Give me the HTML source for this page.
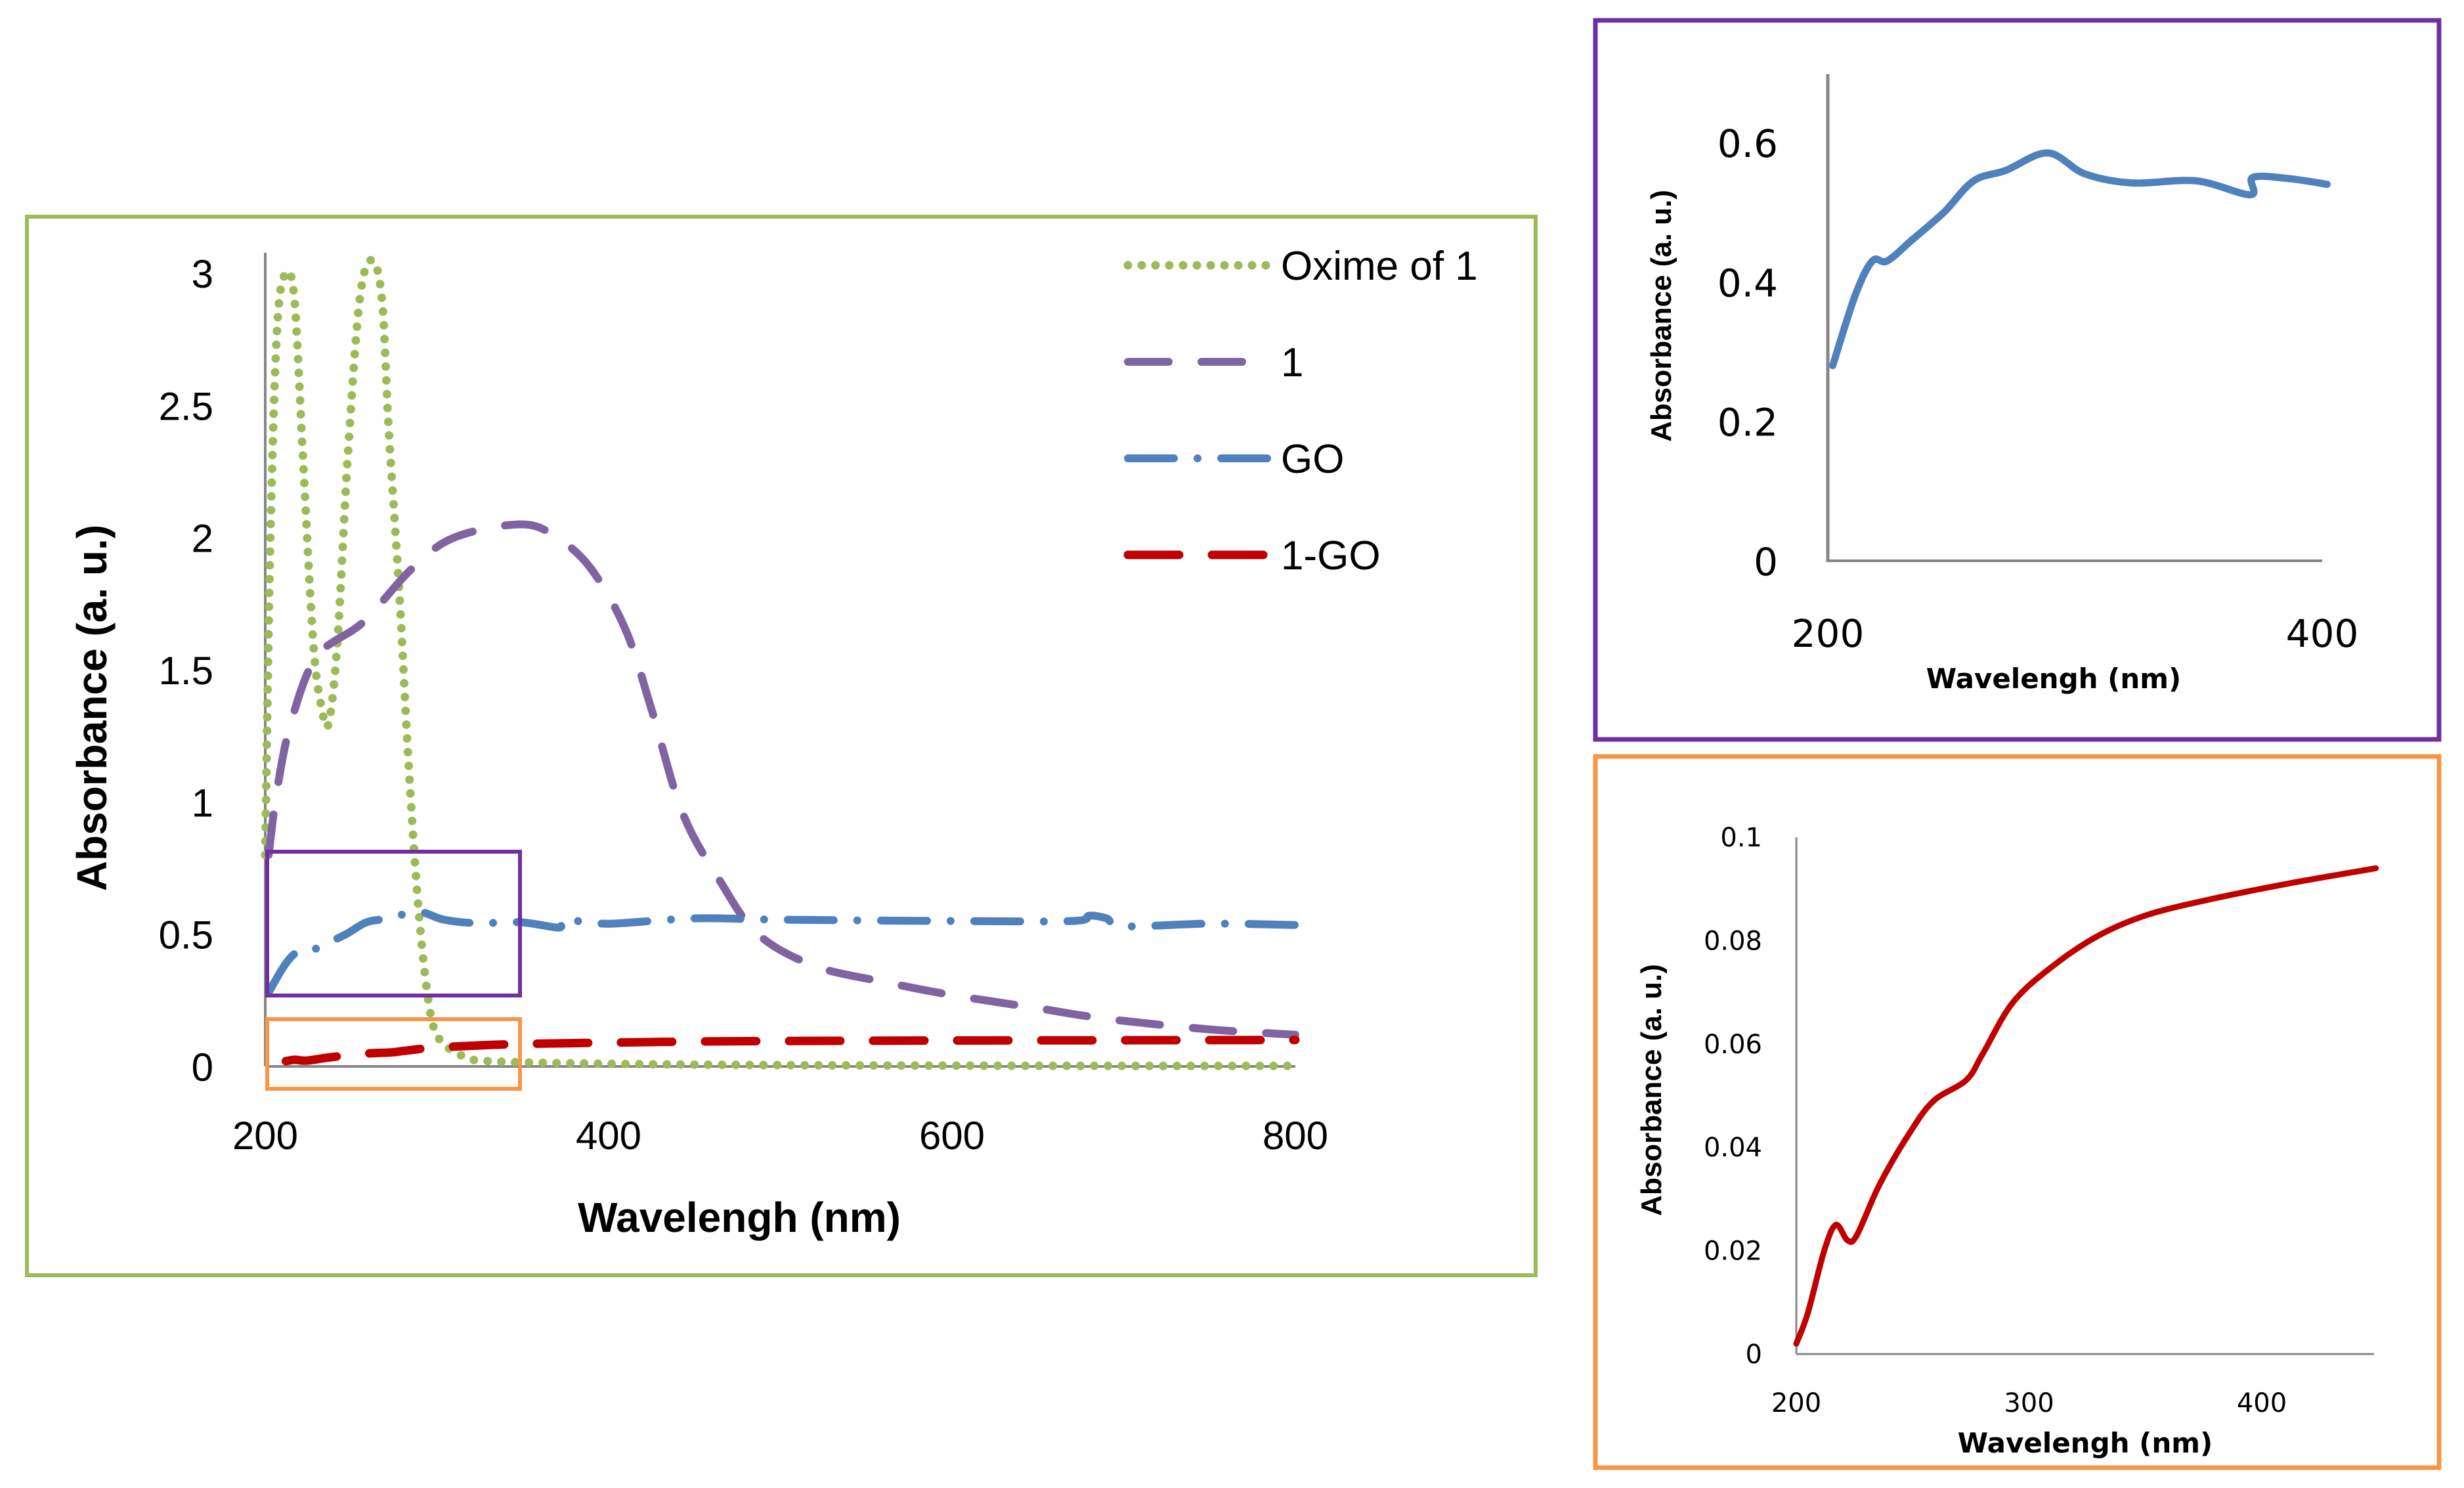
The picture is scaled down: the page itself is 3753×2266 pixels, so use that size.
<!DOCTYPE html>
<html><head><meta charset="utf-8"><style>
html,body{margin:0;padding:0;background:#fff;}
svg{display:block;}
</style></head><body>
<svg id="fig" width="3753" height="2266" viewBox="0 0 3753 2266" xmlns="http://www.w3.org/2000/svg">
<rect width="3753" height="2266" fill="#fff"/>
<rect x="41" y="330" width="2298" height="1612" fill="none" stroke="#9BBB59" stroke-width="6"/>
<rect x="2430" y="31" width="1285" height="1095" fill="none" stroke="#7030A0" stroke-width="7"/>
<rect x="2430" y="1152" width="1285" height="1083" fill="none" stroke="#F79646" stroke-width="7"/>
<g id="main"></g><g id="in1"></g><g id="in2"></g>
</svg>
<script>
// ---------- data ----------
const oximeX=[200,203,207,212,217,222,228,233,237,242,248,255,262,268,272,278,283,288,293,298,305,315,330,400,500,600,700,800];
const oximeY=[0.8,2.0,2.8,3.0,2.9,2.3,1.6,1.35,1.3,1.6,2.3,2.9,3.05,2.9,2.4,1.8,1.2,0.7,0.35,0.15,0.08,0.04,0.02,0.01,0.005,0.003,0.002,0.002];
const oneX=[202,207,215,230,257,285,310,349,370,390,410,425,443,465,487,520,560,600,650,690,750,800];
const oneY=[0.8,1.05,1.3,1.55,1.68,1.88,2.0,2.05,2.0,1.88,1.65,1.35,0.96,0.7,0.5,0.38,0.32,0.27,0.22,0.18,0.14,0.12];
const goX=[202,211,218,224,234,247,259,272,289,304,323,349,371,372,387,402,450,500,600,670,680,690,700,750,800];
const goY=[0.28,0.38,0.43,0.43,0.46,0.5,0.545,0.56,0.585,0.555,0.542,0.545,0.525,0.55,0.548,0.54,0.56,0.555,0.55,0.55,0.57,0.56,0.53,0.54,0.535];
const gox1X=[200,205,212,217,222,226,236,249,259,273,280,293,310,330,351,378,411,449,500,600,700,800];
const gox1Y=[0.002,0.008,0.02,0.025,0.022,0.023,0.033,0.043,0.049,0.053,0.058,0.068,0.075,0.081,0.085,0.088,0.091,0.094,0.096,0.098,0.099,0.1];
const mainXTicks=[200,400,600,800];
const mainYTicks=[0,0.5,1,1.5,2,2.5,3];
const mainYLabels=["0","0.5","1","1.5","2","2.5","3"];
const in1XTicks=[200,400];
const in1YTicks=[0,0.2,0.4,0.6];
const in2XTicks=[200,300,400];
const in2YTicks=[0,0.02,0.04,0.06,0.08,0.1];
const legendNames=["Oxime of 1","1","GO","1-GO"];

const NS="http://www.w3.org/2000/svg";
function mk(parent,tag,attrs,text){const e=document.createElementNS(NS,tag);for(const k in attrs)e.setAttribute(k,attrs[k]);if(text!==undefined)e.textContent=text;parent.appendChild(e);return e;}
function pathD(xs,ys,sx,sy){
 const p=xs.map((x,i)=>[sx(x),sy(ys[i])]);
 let d='M'+p[0][0].toFixed(1)+' '+p[0][1].toFixed(1);
 for(let i=0;i<p.length-1;i++){
  const p0=p[i-1]||p[i],p1=p[i],p2=p[i+1],p3=p[i+2]||p2;
  const c1=[p1[0]+(p2[0]-p0[0])/6,p1[1]+(p2[1]-p0[1])/6];
  const c2=[p2[0]-(p3[0]-p1[0])/6,p2[1]-(p3[1]-p1[1])/6];
  d+=' C'+c1[0].toFixed(1)+' '+c1[1].toFixed(1)+' '+c2[0].toFixed(1)+' '+c2[1].toFixed(1)+' '+p2[0].toFixed(1)+' '+p2[1].toFixed(1);
 }
 return d;}

// ---------- main chart ----------
const M=document.getElementById('main');
const mx=v=>404+(v-200)*(1973-404)/600;
const my=v=>1624-v*(1624-416)/3;
let e;
e=mk(M,'line',{x1:404,y1:385,x2:404,y2:1624,stroke:'#868686','stroke-width':4});


e=mk(M,'line',{x1:404,y1:1624,x2:1973,y2:1624,stroke:'#868686','stroke-width':4});


mainYTicks.forEach((t,i)=>{e=mk(M,'text',{x:325,y:my(t)+22,'text-anchor':'end','font-family':'Liberation Sans, sans-serif','font-size':60,fill:'#000'},mainYLabels[i]);

});
mainXTicks.forEach(t=>{e=mk(M,'text',{x:mx(t),y:1750,'text-anchor':'middle','font-family':'Liberation Sans, sans-serif','font-size':60,fill:'#000'},String(t));

});
e=mk(M,'text',{x:1126,y:1876,'text-anchor':'middle','font-family':'Liberation Sans, sans-serif','font-size':64,'font-weight':'bold',fill:'#000'},'Wavelengh (nm)');


e=mk(M,'text',{x:162,y:1078,'text-anchor':'middle','font-family':'Liberation Sans, sans-serif','font-size':64,'font-weight':'bold',fill:'#000',transform:'rotate(-90 162 1078)'},'Absorbance (a. u.)');



const styles=[
 {c:'#9BBB59',da:'0 21',cap:'round',w:13},
 {c:'#8064A2',da:'62 50',cap:'round',w:12},
 {c:'#4F81BD',da:'70 36 0 36',cap:'round',w:12},
 {c:'#C00000',da:'78 50',cap:'round',w:13}];
const series=[[oximeX,oximeY],[oneX,oneY],[goX,goY],[gox1X.slice(2),gox1Y.slice(2)]];
const sNames=['series-oxime-of-1','series-1','series-go','series-1-go'];
series.forEach((s,i)=>{const st=styles[i];
 e=mk(M,'path',{d:pathD(s[0],s[1],mx,my),fill:'none',stroke:st.c,'stroke-width':st.w,'stroke-dasharray':st.da,'stroke-linecap':st.cap,'stroke-linejoin':'round'});
 
 });
e=mk(M,'rect',{x:407,y:1297,width:385,height:219,fill:'none',stroke:'#7030A0','stroke-width':6});


e=mk(M,'rect',{x:407,y:1552,width:385,height:106,fill:'none',stroke:'#F79646','stroke-width':6});


const legY=[404,551,698,845];
legendNames.forEach((n,i)=>{const st=styles[i];
 const g=mk(M,'g',{});
 
 
 mk(g,'line',{x1:1718,y1:legY[i],x2:1930,y2:legY[i],stroke:st.c,'stroke-width':st.w,'stroke-dasharray':st.da,'stroke-linecap':st.cap});
 mk(g,'text',{x:1951,y:legY[i]+22,'font-family':'Liberation Sans, sans-serif','font-size':62,fill:'#000'},n);});

// ---------- inset GO ----------
const A=document.getElementById('in1');
const ax=v=>2784+(v-200)*(3537-2784)/200;
const ay=v=>854-v*(854-217)/0.6;
e=mk(A,'line',{x1:2784,y1:113,x2:2784,y2:856,stroke:'#868686','stroke-width':5});


e=mk(A,'line',{x1:2784,y1:854,x2:3537,y2:854,stroke:'#868686','stroke-width':4});


in1YTicks.forEach(t=>{e=mk(A,'text',{x:2708,y:ay(t)+22,'text-anchor':'end','font-family':'DejaVu Sans, sans-serif','font-size':58,fill:'#000'},String(t));

});
in1XTicks.forEach(t=>{e=mk(A,'text',{x:ax(t),y:985,'text-anchor':'middle','font-family':'DejaVu Sans, sans-serif','font-size':58,fill:'#000'},String(t));

});
e=mk(A,'text',{x:3128,y:1048,'text-anchor':'middle','font-family':'DejaVu Sans, sans-serif','font-size':42,'font-weight':'bold',fill:'#000'},'Wavelengh (nm)');


e=mk(A,'text',{x:2545,y:481,'text-anchor':'middle','font-family':'Liberation Sans, sans-serif','font-size':44,'font-weight':'bold',fill:'#000',transform:'rotate(-90 2545 481)'},'Absorbance (a. u.)');


const gi=goX.map((x,i)=>i).filter(i=>goX[i]<=402);
e=mk(A,'path',{d:pathD(gi.map(i=>goX[i]),gi.map(i=>goY[i]),ax,ay),fill:'none',stroke:'#4F81BD','stroke-width':11,'stroke-linejoin':'round','stroke-linecap':'round'});



// ---------- inset 1-GO ----------
const B=document.getElementById('in2');
const bx=v=>2736+(v-200)*(3445-2736)/200;
const by=v=>2062-v*(2062-1275)/0.1;
e=mk(B,'line',{x1:2736,y1:1275,x2:2736,y2:2062,stroke:'#868686','stroke-width':3});


e=mk(B,'line',{x1:2736,y1:2062,x2:3616,y2:2062,stroke:'#868686','stroke-width':3});


in2YTicks.forEach(t=>{e=mk(B,'text',{x:2684,y:by(t)+14,'text-anchor':'end','font-family':'DejaVu Sans, sans-serif','font-size':40,fill:'#000'},String(t));

});
in2XTicks.forEach(t=>{e=mk(B,'text',{x:bx(t),y:2150,'text-anchor':'middle','font-family':'DejaVu Sans, sans-serif','font-size':40,fill:'#000'},String(t));

});
e=mk(B,'text',{x:3176,y:2212,'text-anchor':'middle','font-family':'DejaVu Sans, sans-serif','font-size':42,'font-weight':'bold',fill:'#000'},'Wavelengh (nm)');


e=mk(B,'text',{x:2530,y:1660,'text-anchor':'middle','font-family':'Liberation Sans, sans-serif','font-size':44,'font-weight':'bold',fill:'#000',transform:'rotate(-90 2530 1660)'},'Absorbance (a. u.)');


const ri=gox1X.map((x,i)=>i).filter(i=>gox1X[i]<=449);
e=mk(B,'path',{d:pathD(ri.map(i=>gox1X[i]),ri.map(i=>gox1Y[i]),bx,by),fill:'none',stroke:'#C00000','stroke-width':9,'stroke-linejoin':'round','stroke-linecap':'round'});


</script>
</body></html>
